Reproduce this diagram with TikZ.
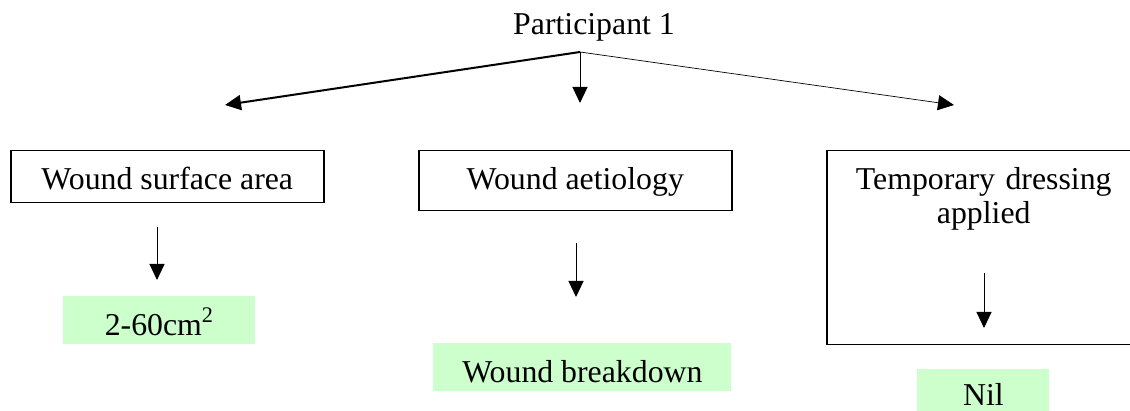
\documentclass[tikz,border=0pt]{standalone}
\usepackage{fontspec}
\setmainfont{Liberation Serif}
\usetikzlibrary{arrows.meta}
\definecolor{valgreen}{RGB}{204,255,204}

\begin{document}
\begin{tikzpicture}[x=0.5pt,y=-0.5pt]
  \tikzset{every node/.style={font=\fontsize{15.9}{17}\selectfont, inner xsep=0pt, inner ysep=0pt}}
  \tikzset{Box/.style={draw, line width=0.75pt, anchor=north west, text height=19.5pt}}
  \tikzset{Val/.style={fill=valgreen, anchor=north west, text height=19.5pt, text depth=4.5pt}}
  \tikzset{Link/.style={-{Triangle[length=8pt,width=7.5pt]}, line width=0.5pt}}

  \useasboundingbox (0,0) rectangle (1130,411);

  \node[anchor=base] (part) at (594,35) {Participant 1};

  \node[Box, minimum width=156.5pt, text depth=6.5pt] (area) at (10,150) {Wound surface area};
  \node[Box, minimum width=156.5pt, text depth=10.5pt] (aet) at (418,150) {Wound aetiology};
  \node[Box, text width=157pt, align=center, text depth=77.5pt] (temp) at (826,150) {Temporary dressing\\applied};

  \node[Val, minimum width=96pt] (areaV) at (63,296) {2-60cm\textsuperscript{2}};
  \node[Val, minimum width=149pt] (aetV) at (433,343) {Wound breakdown};
  \node[Val, minimum width=66pt, text height=18pt, text depth=3pt] (tempV) at (917,369) {Nil};

  \coordinate (top) at (580,52);
  \coordinate (toArea) at (225,105);
  \coordinate (toAet) at (580,103);
  \coordinate (toTemp) at (954,105);
  \draw[Link, line width=1pt] (top) -- (toArea);
  \draw[Link] (top) -- (toAet);
  \draw[Link, line width=0.35pt] (top) -- (toTemp);

  \coordinate (areaA) at (157,227);
  \coordinate (areaB) at (157,280);
  \coordinate (aetA) at (576,243);
  \coordinate (aetB) at (576,297);
  \coordinate (tempA) at (984,273);
  \coordinate (tempB) at (984,328);
  \draw[Link] (areaA) -- (areaB);
  \draw[Link] (aetA) -- (aetB);
  \draw[Link] (tempA) -- (tempB);
\end{tikzpicture}
\end{document}
